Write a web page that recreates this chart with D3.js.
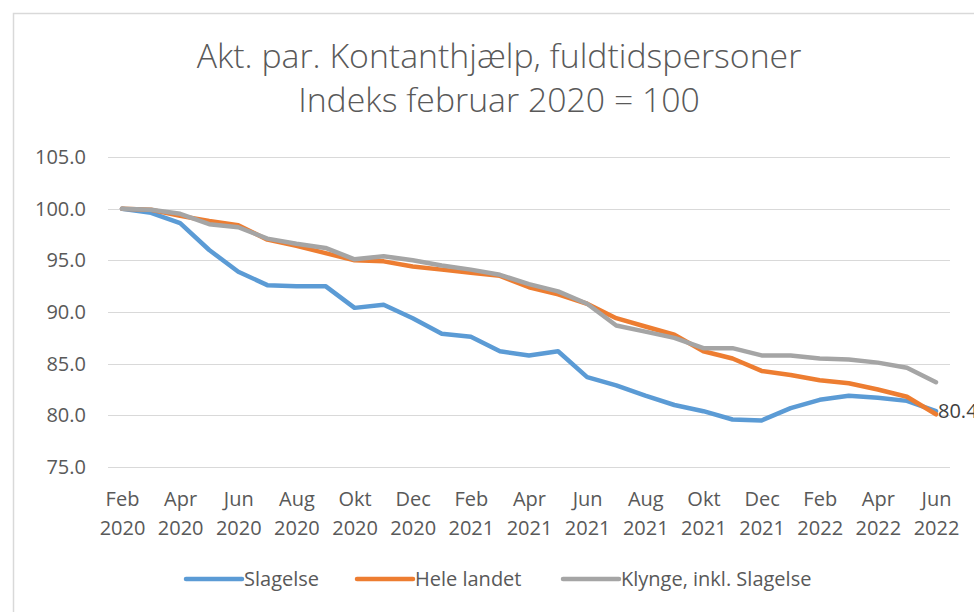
<!DOCTYPE html>
<html>
<head>
<meta charset="utf-8">
<script src="https://cdn.jsdelivr.net/npm/d3@7"></script>
<style>
  html, body { margin: 0; padding: 0; background: #fff; }
  svg { display: block; font-family: "Open Sans", "Noto Sans", sans-serif; }
</style>
</head>
<body>
<div id="chart"></div>
<script>
// Data
const months = [
  "Feb 2020", "Mar 2020", "Apr 2020", "Maj 2020", "Jun 2020", "Jul 2020", "Aug 2020", "Sep 2020",
  "Okt 2020", "Nov 2020", "Dec 2020", "Jan 2021", "Feb 2021", "Mar 2021", "Apr 2021", "Maj 2021",
  "Jun 2021", "Jul 2021", "Aug 2021", "Sep 2021", "Okt 2021", "Nov 2021", "Dec 2021", "Jan 2022",
  "Feb 2022", "Mar 2022", "Apr 2022", "Maj 2022", "Jun 2022"
];
const slagelse = [100, 99.6, 98.6, 96.0, 93.9, 92.6, 92.5, 92.5, 90.4, 90.7, 89.4, 87.9, 87.6, 86.2, 85.8,
  86.2, 83.7, 82.9, 81.9, 81.0, 80.4, 79.6, 79.5, 80.7, 81.5, 81.9, 81.7, 81.4, 80.4];
const heleLandet = [100, 99.9, 99.3, 98.8, 98.4, 97.0, 96.4, 95.7, 95.0, 94.9, 94.4, 94.1, 93.8, 93.5, 92.4,
  91.7, 90.8, 89.4, 88.6, 87.8, 86.2, 85.5, 84.3, 83.9, 83.4, 83.1, 82.5, 81.8, 80.1];
const klynge = [100, 99.9, 99.5, 98.5, 98.2, 97.1, 96.6, 96.2, 95.1, 95.4, 95.0, 94.5, 94.1, 93.6, 92.7,
  92.0, 90.8, 88.7, 88.1, 87.5, 86.5, 86.5, 85.8, 85.8, 85.5, 85.4, 85.1, 84.6, 83.2];
const yTicks = [75, 80, 85, 90, 95, 100, 105];
const xTickLabels = months.filter((d, i) => i % 2 === 0);

const series = [
  { name: "Slagelse", values: slagelse, color: "#5B9BD5" },
  { name: "Hele landet", values: heleLandet, color: "#ED7D31" },
  { name: "Klynge, inkl. Slagelse", values: klynge, color: "#A5A5A5" }
];

const width = 974, height = 612;
const textColor = "#595959";
const labelSize = 20;

const svg = d3.select("#chart").append("svg")
  .attr("width", width)
  .attr("height", height);

// Chart area border (runs off the right/bottom edge like the screenshot)
svg.append("rect")
  .attr("x", 13.5).attr("y", 13.5)
  .attr("width", 972).attr("height", 620)
  .attr("fill", "#fff")
  .attr("stroke", "#D9D9D9")
  .attr("stroke-width", 1.5);

// Scales
const x = d3.scalePoint().domain(months).range([122, 936]);
const y = d3.scaleLinear().domain([75, 105]).range([467, 157]);
const gridLeft = 108, gridRight = 950;

// Title
const title = svg.append("g").attr("fill", textColor).attr("font-weight", 300);
const t1 = title.append("text")
  .attr("x", 499).attr("y", 68)
  .attr("text-anchor", "middle")
  .attr("font-size", 30)
  .text("Akt. par. Kontanthjælp, fuldtidspersoner");
// fit to the width of the reference title
const fs = 30 * 605 / t1.node().getComputedTextLength();
t1.attr("font-size", fs);
title.append("text")
  .attr("x", 499).attr("y", 112)
  .attr("text-anchor", "middle")
  .attr("font-size", fs)
  .text("Indeks februar 2020 = 100");

// Gridlines
svg.append("g")
  .selectAll("line")
  .data(yTicks)
  .join("line")
  .attr("x1", gridLeft).attr("x2", gridRight)
  .attr("y1", (d) => Math.round(y(d)) + 0.5)
  .attr("y2", (d) => Math.round(y(d)) + 0.5)
  .attr("stroke", "#D9D9D9")
  .attr("stroke-width", 1.2);

// Y axis
svg.append("g")
  .attr("transform", `translate(${gridLeft},0)`)
  .call(d3.axisLeft(y).tickValues(yTicks).tickFormat(d3.format(".1f")).tickSize(0).tickPadding(22))
  .call((g) => g.select(".domain").remove())
  .selectAll("text")
  .attr("font-family", "Open Sans, sans-serif")
  .attr("font-size", labelSize)
  .attr("fill", textColor);

// X axis (two-line labels)
const xAxis = svg.append("g")
  .attr("transform", "translate(0,467)")
  .call(d3.axisBottom(x).tickValues(xTickLabels).tickSize(0).tickFormat(""))
  .call((g) => g.select(".domain").remove());
xAxis.selectAll(".tick text").remove();
xAxis.selectAll(".tick").each(function (d) {
  const parts = d.split(" ");
  const t = d3.select(this).append("text")
    .attr("text-anchor", "middle")
    .attr("font-family", "Open Sans, sans-serif")
    .attr("font-size", labelSize)
    .attr("fill", textColor);
  t.append("tspan").attr("x", 0).attr("y", 39).text(parts[0]);
  t.append("tspan").attr("x", 0).attr("y", 68).text(parts[1]);
});

// Lines
const line = d3.line()
  .x((d, i) => x(months[i]))
  .y((d) => y(d));

svg.append("g")
  .selectAll("path")
  .data(series)
  .join("path")
  .attr("d", (d) => line(d.values))
  .attr("fill", "none")
  .attr("stroke", (d) => d.color)
  .attr("stroke-width", 4.5)
  .attr("stroke-linejoin", "round")
  .attr("stroke-linecap", "round");

// Data label on the last point of Slagelse
const last = slagelse.length - 1;
svg.append("text")
  .attr("x", x(months[last]) + 2)
  .attr("y", y(slagelse[last]) + 7)
  .attr("font-size", labelSize)
  .attr("fill", "#404040")
  .text(d3.format(".1f")(slagelse[last]));

// Legend
const legendX = [186, 357, 563];
const legend = svg.append("g").attr("transform", "translate(0,579)");
const items = legend.selectAll("g")
  .data(series)
  .join("g")
  .attr("transform", (d, i) => `translate(${legendX[i]},0)`);
items.append("line")
  .attr("x1", 0).attr("x2", 56)
  .attr("stroke", (d) => d.color)
  .attr("stroke-width", 4.5)
  .attr("stroke-linecap", "round");
items.append("text")
  .attr("x", 58).attr("y", 7)
  .attr("font-size", labelSize)
  .attr("fill", textColor)
  .text((d) => d.name);
</script>
</body>
</html>
